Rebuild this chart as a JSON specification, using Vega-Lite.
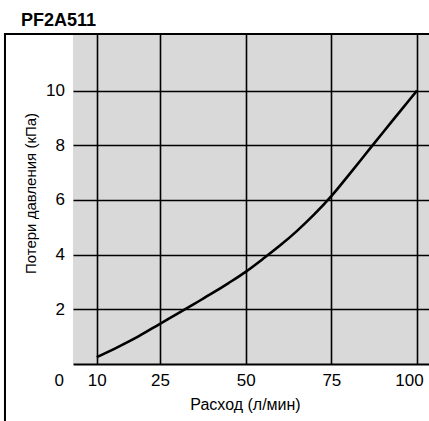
{
  "$schema": "https://vega.github.io/schema/vega-lite/v6.json",
  "width": 356,
  "height": 330,
  "autosize": {"type": "none"},
  "padding": {"left": 73, "top": 34, "right": 0, "bottom": 57},
  "background": "white",
  "title": {
    "text": "PF2A511",
    "anchor": "start",
    "frame": "group",
    "dx": -52,
    "dy": 21,
    "offset": 10,
    "baseline": "alphabetic",
    "font": "Liberation Sans Narrow, Liberation Sans",
    "fontSize": 18,
    "fontWeight": "bold",
    "color": "#000"
  },
  "config": {
    "view": {"fill": "#d9d9d9", "stroke": null}
  },
  "datasets": {
    "curve": [
      {"x": 10, "y": 0.25},
      {"x": 15, "y": 0.62},
      {"x": 20, "y": 1.02},
      {"x": 25, "y": 1.47},
      {"x": 30, "y": 1.83},
      {"x": 35, "y": 2.2},
      {"x": 40, "y": 2.57},
      {"x": 45, "y": 2.96},
      {"x": 50, "y": 3.37},
      {"x": 55, "y": 3.84},
      {"x": 60, "y": 4.33},
      {"x": 65, "y": 4.87},
      {"x": 70, "y": 5.47},
      {"x": 75, "y": 6.14},
      {"x": 80, "y": 6.9},
      {"x": 85, "y": 7.68},
      {"x": 90, "y": 8.46},
      {"x": 95, "y": 9.23},
      {"x": 100, "y": 10.0}
    ],
    "frame": [
      {"x": -28.7, "x2": -28.7, "y": 12.07, "y2": -2.4},
      {"x": -28.7, "x2": 106, "y": 12.07, "y2": 12.07}
    ],
    "corner": [
      {"x": 0, "y": 0, "t": "0"}
    ]
  },
  "encoding": {
    "x": {
      "field": "x",
      "type": "quantitative",
      "scale": {"domain": [0, 10, 25, 103.5], "range": [0, 23.7, 87, 356], "nice": false, "zero": false},
      "axis": {
        "values": [10, 25, 50, 75, 100],
        "grid": true,
        "gridColor": "#000",
        "gridWidth": 1.6,
        "gridOpacity": 1,
        "domain": true,
        "domainColor": "#000",
        "domainWidth": 2,
        "ticks": false,
        "labelFont": "Liberation Sans",
        "labelFontSize": 17,
        "labelColor": "#000",
        "labelPadding": 8.5,
        "labelOffset": {"condition": {"test": "datum.value === 100", "value": -8}, "value": 0},
        "labelFlush": false,
        "labelOverlap": false,
        "labelBound": false,
        "title": "Расход (л/мин)",
        "titleFont": "Liberation Sans Narrow, Liberation Sans",
        "titleFontSize": 16,
        "titleFontWeight": "normal",
        "titleColor": "#000",
        "titleX": 172,
        "titleY": 45,
        "titleBaseline": "alphabetic",
        "titleAlign": "center"
      }
    },
    "y": {
      "field": "y",
      "type": "quantitative",
      "scale": {"domain": [0, 12.07], "nice": false, "zero": false},
      "axis": {
        "values": [2, 4, 6, 8, 10],
        "grid": true,
        "gridColor": "#000",
        "gridWidth": 1.6,
        "gridOpacity": 1,
        "domain": false,
        "ticks": false,
        "labelFont": "Liberation Sans",
        "labelFontSize": 17,
        "labelColor": "#000",
        "labelPadding": 8.5,
        "labelFlush": false,
        "labelOverlap": false,
        "title": "Потери давления (кПа)",
        "titleFont": "Liberation Sans",
        "titleFontSize": 15,
        "titleFontWeight": "normal",
        "titleColor": "#000",
        "titleX": -38,
        "titleY": 159,
        "titleAngle": 270,
        "titleBaseline": "alphabetic",
        "titleAlign": "center"
      }
    }
  },
  "layer": [
    {
      "data": {"name": "frame"},
      "mark": {"type": "rule", "color": "#000", "strokeWidth": 2, "strokeCap": "square", "clip": false},
      "encoding": {
        "x2": {"field": "x2"},
        "y2": {"field": "y2"}
      }
    },
    {
      "data": {"name": "curve"},
      "mark": {"type": "line", "color": "#000", "strokeWidth": 2.6, "interpolate": "monotone", "clip": false}
    },
    {
      "data": {"name": "corner"},
      "mark": {"type": "text", "align": "right", "baseline": "alphabetic", "dx": -9, "dy": 22, "font": "Liberation Sans", "fontSize": 17, "color": "#000"},
      "encoding": {
        "text": {"field": "t"}
      }
    }
  ]
}
